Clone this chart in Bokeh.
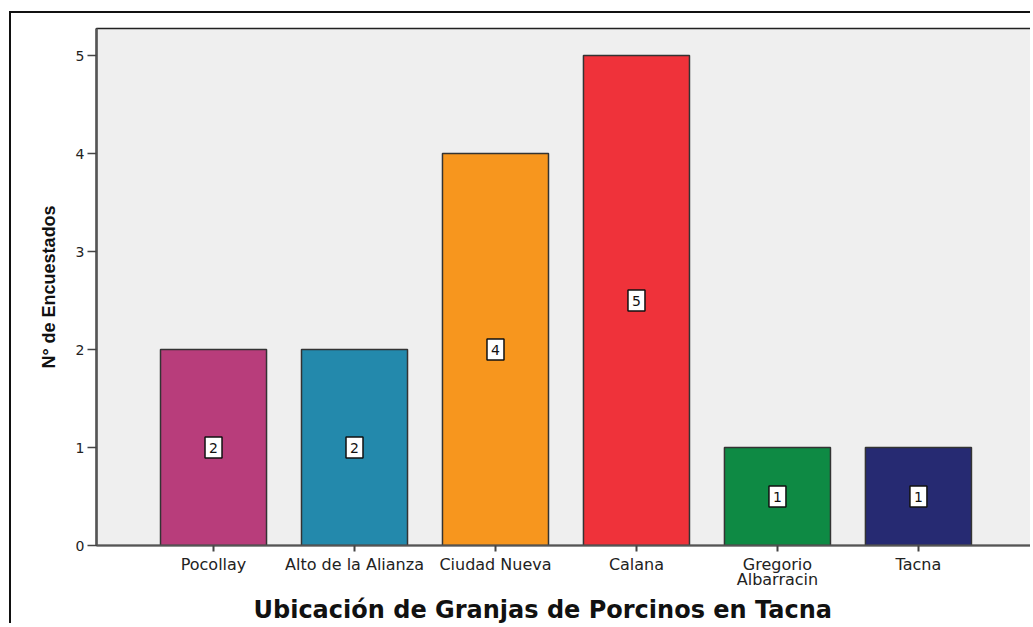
from bokeh.plotting import figure
from bokeh.models import ColumnDataSource, Range1d, FixedTicker, Title
from bokeh.core.properties import value
from bokeh.embed import file_html
from bokeh.resources import INLINE

categories = ["Pocollay", "Alto de la Alianza", "Ciudad Nueva", "Calana", "Gregorio\nAlbarracin", "Tacna"]
values = [2, 2, 4, 5, 1, 1]
colors = ["#B83D7B", "#2389AC", "#F7961E", "#EF323A", "#0E8A44", "#262A72"]
y_ticks = [0, 1, 2, 3, 4, 5]

xs = list(range(len(categories)))
src = ColumnDataSource(dict(x=xs, top=values, color=colors,
                            mid=[v / 2 for v in values],
                            lbl=[str(v) for v in values]))

p = figure(width=1021, height=612, output_backend="svg", toolbar_location=None,
           x_range=Range1d(-0.830, 5.809), y_range=Range1d(0, 5.276),
           min_border_left=85, min_border_right=0, min_border_top=15, min_border_bottom=80)
p.styles = {"border-top": "2px solid #111", "border-left": "2px solid #111",
            "margin-top": "11px", "margin-left": "9px"}

p.background_fill_color = "#EFEFEF"
p.border_fill_color = "white"
p.outline_line_color = "#222"
p.outline_line_width = 1.5
p.xgrid.visible = False
p.ygrid.visible = False

p.vbar(x="x", top="top", width=0.752, bottom=0, fill_color="color",
       line_color="#333333", line_width=1.5, source=src)

p.rect(x="x", y="mid", width=17, height=21, width_units="screen", height_units="screen",
       fill_color="white", line_color="#111", line_width=1.5, source=src)
p.text(x="x", y="mid", text="lbl", source=src, text_align="center",
       text_baseline="middle", text_font_size="14px", text_color="#111",
       text_font=value("DejaVu Sans"))

# Y axis
p.yaxis.ticker = FixedTicker(ticks=y_ticks)
p.yaxis.minor_tick_line_color = None
p.yaxis.major_tick_in = 0
p.yaxis.major_tick_out = 9
p.yaxis.major_tick_line_color = "#444"
p.yaxis.major_tick_line_width = 1.5
p.yaxis.axis_line_color = "#555"
p.yaxis.axis_line_width = 2.5
p.yaxis.major_label_text_font = "DejaVu Sans"
p.yaxis.major_label_text_font_size = "14px"
p.yaxis.major_label_text_color = "#222"
p.yaxis.major_label_standoff = 3
p.yaxis.axis_label = "N° de Encuestados"
p.yaxis.axis_label_text_font = "Liberation Sans"
p.yaxis.axis_label_text_font_style = "bold"
p.yaxis.axis_label_text_font_size = "18px"
p.yaxis.axis_label_text_color = "#111"
p.yaxis.axis_label_standoff = 14

# X axis
p.xaxis.ticker = FixedTicker(ticks=xs)
p.xaxis.major_label_overrides = {i: c for i, c in enumerate(categories)}
p.xaxis.minor_tick_line_color = None
p.xaxis.major_tick_in = 0
p.xaxis.major_tick_out = 6
p.xaxis.major_tick_line_color = "#444"
p.xaxis.major_tick_line_width = 2
p.xaxis.axis_line_color = "#555"
p.xaxis.axis_line_width = 2
p.xaxis.major_label_text_font = "DejaVu Sans"
p.xaxis.major_label_text_font_size = "16px"
p.xaxis.major_label_text_color = "#222"
p.xaxis.major_label_standoff = 3
p.xaxis.major_label_text_line_height = 0.82

t = Title(text="Ubicación de Granjas de Porcinos en Tacna", align="left", offset=157,
          text_font="DejaVu Sans", text_font_size="24px", text_font_style="bold",
          text_color="#111", standoff=3)
p.add_layout(t, "below")

open("out.html", "w").write(file_html(p, INLINE))
